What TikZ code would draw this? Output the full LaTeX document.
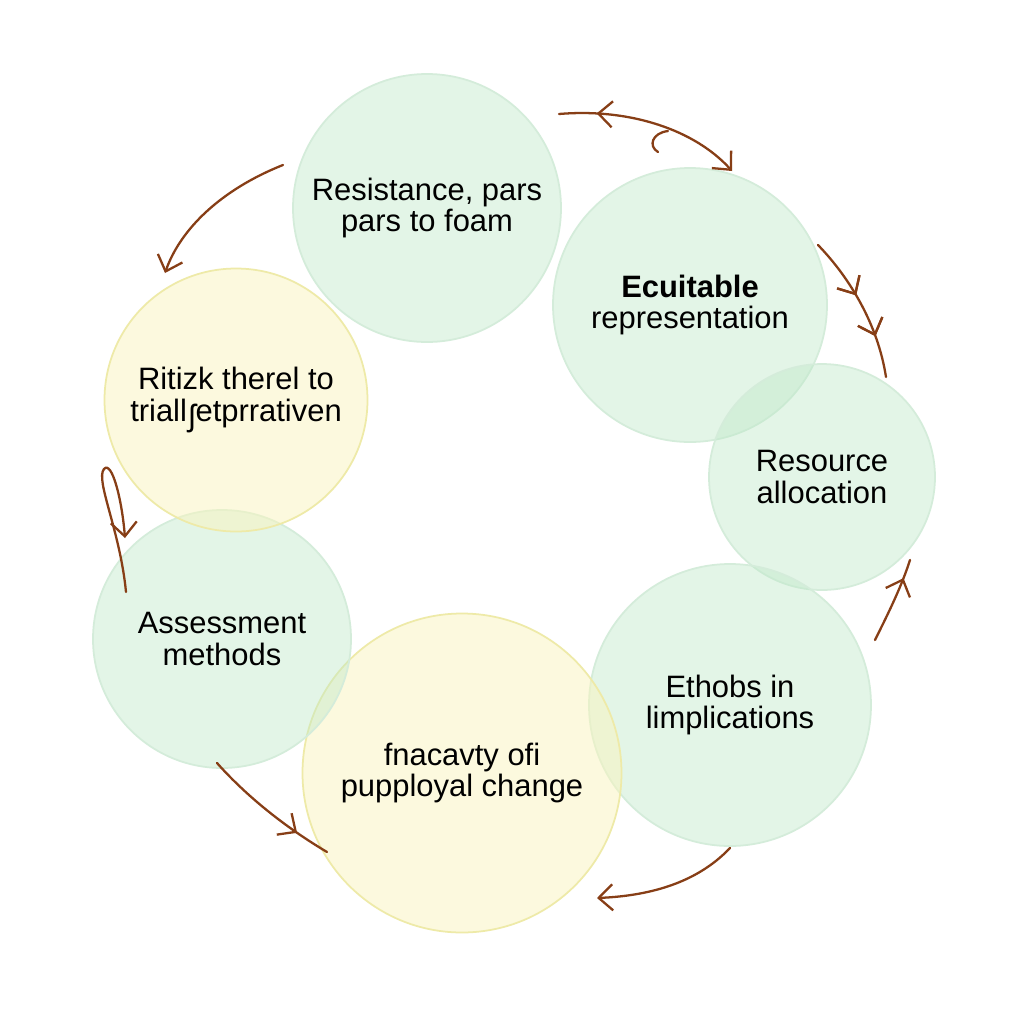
\documentclass[tikz,border=0pt]{standalone}
\usepackage{fontspec}
\setmainfont{Liberation Sans}
\usepackage{xcolor}
\usetikzlibrary{arrows.meta,decorations.markings}
\definecolor{bubblegreen}{RGB}{190,232,200}
\definecolor{rimgreen}{RGB}{212,236,218}
\definecolor{bubbleyellow}{RGB}{250,244,190}
\definecolor{rimyellow}{RGB}{238,234,168}
\definecolor{loopbrown}{RGB}{135,62,22}

\begin{document}
\begin{tikzpicture}[
  every node/.style={font=\fontsize{8.8}{9.1}\selectfont},
  bubble/.style={circle, inner sep=0pt, align=center, fill=bubblegreen,
    fill opacity=0.42, text opacity=1, draw=rimgreen, line width=0.5pt},
  sunny/.style={bubble, fill=bubbleyellow, fill opacity=0.5, draw=rimyellow},
  flow/.style={loopbrown, line width=0.65pt, line cap=round},
  tip/.style={-{Straight Barb[length=1.4mm,width=2.6mm]}},
  midtip/.style={postaction={decorate}, decoration={markings,
    mark=at position #1 with {\arrow{Straight Barb[length=1.4mm,width=2.6mm]}}}},
  backtip/.style={postaction={decorate}, decoration={markings,
    mark=at position #1 with {\arrowreversed{Straight Barb[length=1.4mm,width=2.6mm]}}}},
]

% ===== Frame =====
% whole picture: x in [0, 10.24], y in [-10.24, 0]
\useasboundingbox (0,0) rectangle (10.24,-10.24);
\fill[white] (0,0) rectangle (10.24,-10.24);

%% ---- BUBBLES ----
\node[bubble, minimum size=2.68cm] (resist) at (4.27,-2.08)
  {Resistance, pars\\pars to foam};
\node[bubble, minimum size=2.74cm] (equit) at (6.90,-3.05)
  {\textbf{Ecuitable}\\representation};
\node[bubble, minimum size=2.26cm] (alloc) at (8.22,-4.77)
  {Resource\\allocation};
\node[bubble, minimum size=2.82cm] (ethobs) at (7.30,-7.05)
  {Ethobs in\\limplications};
\node[sunny, minimum size=3.19cm] (fnacav) at (4.62,-7.73)
  {fnacavty ofi\\pupployal change};
\node[bubble, minimum size=2.58cm] (assess) at (2.22,-6.39)
  {Assessment\\methods};
\node[sunny, minimum size=2.63cm] (ritizk) at (2.36,-4.00)
  {Ritizk therel to\\triall\kern0.5pt\raisebox{-0.25ex}{ʃ}etprrativen};

%% ---- ARROW END POINTS ----
\coordinate (a1s) at (5.59,-1.14);
\coordinate (a1e) at (7.32,-1.71);
\coordinate (a2s) at (8.18,-2.45);
\coordinate (a2e) at (8.86,-3.77);
\coordinate (a3s) at (8.75,-6.40);
\coordinate (a3e) at (9.10,-5.60);
\coordinate (a4s) at (7.30,-8.48);
\coordinate (a4e) at (5.97,-8.98);
\coordinate (a5s) at (2.17,-7.63);
\coordinate (a5e) at (3.27,-8.52);
\coordinate (a6s) at (1.26,-5.92);
\coordinate (a6t) at (1.04,-4.69);
\coordinate (a6e) at (1.25,-5.38);
\coordinate (a7s) at (2.83,-1.65);
\coordinate (a7e) at (1.65,-2.73);

%% ---- ARROWS ----
% top: resistance -> equitable
\draw[flow, tip, backtip=0.2] (a1s) .. controls (6.30,-1.08) and (6.95,-1.30) .. (a1e);
\draw[flow] (6.68,-1.31) .. controls (6.52,-1.33) and (6.48,-1.46) .. (6.58,-1.52);
% right: equitable -> allocation
\draw[flow, midtip=0.42, midtip=0.72] (a2s) .. controls (8.50,-2.78) and (8.78,-3.25) .. (a2e);
% right low: ethobs -> allocation
\draw[flow, midtip=0.78] (a3s) .. controls (8.90,-6.10) and (9.02,-5.85) .. (a3e);
% bottom: ethobs -> fnacavty
\draw[flow, tip] (a4s) .. controls (6.95,-8.85) and (6.45,-8.96) .. (a4e);
% bottom left: assessment -> fnacavty
\draw[flow, midtip=0.75] (a5s) .. controls (2.50,-8.00) and (2.90,-8.30) .. (a5e);
% left: hairpin between assessment and ritizk
\draw[flow, tip] (a6s) .. controls (1.20,-5.30) and (0.95,-4.80) .. (a6t)
  .. controls (1.12,-4.60) and (1.22,-5.00) .. (a6e);
% top left: resistance -> ritizk
\draw[flow, tip] (a7s) .. controls (2.20,-1.90) and (1.80,-2.30) .. (a7e);

\end{tikzpicture}
\end{document}
